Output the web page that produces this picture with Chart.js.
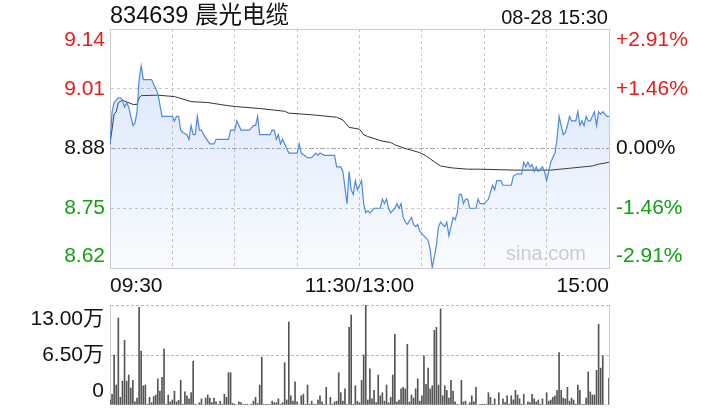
<!DOCTYPE html>
<html>
<head>
<meta charset="utf-8">
<script src="https://cdn.jsdelivr.net/npm/chart.js@4/dist/chart.umd.min.js"></script>
<style>
  html, body { margin: 0; padding: 0; background: #fff; overflow: hidden; }
  #wrap { position: relative; width: 720px; height: 420px; font-family: 'Liberation Sans', 'Noto Sans CJK SC', sans-serif; }
  canvas { position: absolute; left: 0; }
  .txt { position: absolute; line-height: 1; white-space: nowrap; color: #111; }
</style>
</head>
<body>
<div id="wrap">
  <canvas id="price" width="720" height="300" style="top:0"></canvas>
  <canvas id="vol" width="720" height="120" style="top:300px"></canvas>
  <div class="txt" style="left:110px;top:4px;font-size:23.5px">834639 晨光电缆</div>
  <div class="txt" style="right:112px;top:7px;font-size:20px">08-28 15:30</div>
  <div class="txt" style="left:506px;top:243px;font-size:20px;color:#ccc">sina.com</div>
</div>
<script>
"use strict";
// 分时价格 (分钟序号 0..240)
const priceTimes = [0,1,2,4,5,6,7,8,9,10,11,12,13,14,15,16,20,21,23,25,30,31,32,33,34,35,37,38,39,40,41,42,43,44,45,48,50,51,57,58,60,61,63,67,69,70,71,72,77,78,79,80,81,82,83,86,90,91,92,95,97,99,100,101,103,108,109,111,112,114,115,116,117,118,119,120,
  121,122,123,124,125,127,130,131,132,133,134,135,137,138,139,140,141,142,143,145,146,147,148,149,150,151,153,154,155,157,158,159,161,162,163,164,165,166,167,168,169,170,171,172,173,176,177,178,180,182,184,185,186,188,189,193,194,196,198,199,200,201,202,203,204,205,206,208,209,210,211,212,214,215,216,218,219,220,221,222,224,225,226,227,228,229,230,231,233,234,235,236,237,239,240];
const priceValues = [8.89,8.96,8.98,8.99,8.99,8.985,8.97,8.98,8.97,8.95,8.93,8.935,8.96,9.03,9.06,9.03,9.03,9.02,9.00,8.95,8.95,8.94,8.95,8.95,8.92,8.915,8.91,8.90,8.93,8.91,8.91,8.95,8.92,8.92,8.91,8.89,8.89,8.90,8.90,8.92,8.92,8.94,8.92,8.92,8.93,8.93,8.95,8.91,8.91,8.92,8.92,8.90,8.91,8.89,8.90,8.87,8.87,8.89,8.87,8.86,8.86,8.87,8.865,8.87,8.865,8.865,8.84,8.84,8.83,8.76,8.83,8.79,8.78,8.81,8.79,8.80,
  8.81,8.76,8.74,8.745,8.74,8.75,8.75,8.77,8.76,8.77,8.75,8.74,8.75,8.76,8.75,8.76,8.73,8.72,8.715,8.73,8.715,8.71,8.715,8.70,8.695,8.69,8.68,8.66,8.62,8.67,8.71,8.72,8.71,8.72,8.69,8.71,8.73,8.725,8.74,8.78,8.78,8.76,8.77,8.77,8.75,8.75,8.77,8.76,8.76,8.77,8.80,8.79,8.81,8.81,8.80,8.80,8.82,8.825,8.825,8.85,8.84,8.85,8.84,8.845,8.83,8.84,8.83,8.84,8.83,8.81,8.83,8.85,8.87,8.90,8.95,8.91,8.915,8.93,8.95,8.94,8.94,8.96,8.93,8.94,8.93,8.95,8.94,8.94,8.96,8.93,8.96,8.955,8.96,8.95,8.95];

// 均价线
const avgTimes = [0,2,3,4,6,11,13,14,15,23,31,39,47,57,61,72,84,86,98,109,112,115,120,122,124,131,135,137,142,149,152,156,159,164,172,178,194,212,221,232,235,240];
const avgValues = [8.89,8.955,8.96,8.98,8.985,8.976,8.976,8.99,8.995,8.996,8.993,8.982,8.98,8.973,8.971,8.967,8.961,8.957,8.953,8.948,8.942,8.926,8.922,8.91,8.906,8.896,8.893,8.888,8.88,8.871,8.864,8.851,8.842,8.838,8.835,8.835,8.833,8.833,8.837,8.842,8.846,8.85];

// 成交量 (万), 每分钟一根
const volumeValues = [
  0.65,1.4,6.5,2.6,11.3,1.0,3.1,8.4,3.1,3.9, 2.2,3.2,0.4,0.9,12.7,7.0,2.5,2.6,0.1,1.0,
  0.3,1.1,1.3,3.4,1.8,3.6,7.3,0.1,1.3,0.4, 0.65,1.8,0.4,0.6,3.2,0.1,1.7,1.2,0.8,1.6,
  5.7,0.1,0,0.3,0.8,0,0.9,1.3,0.9,0.3, 0.9,0.4,0.1,0.5,0.1,1.4,1.0,4.2,4.2,0.2,
  0.1,0,0.4,0.3,0.1,0.1,0.1,0,0.1,0.5, 1.0,0.2,2.6,6.2,0.1,0.1,0.1,0.1,0.5,0.3,
  0.3,0.8,0.1,0.3,5.5,0.65,10.8,1.2,0.5,3.0, 0.4,0,1.2,1.4,0.1,2.6,0.1,0.5,0.1,0.1,
  0.65,1.2,0.4,0.1,2.3,0,1.0,0.1,0.4,0.5, 4.2,1.6,0.5,2.1,0.1,10.1,11.7,0.1,2.5,0.5,
  0.3,
  3.2,6.5,13.0,0.65,4.7,0.8,1.9,0.3,3.9,1.2, 1.6,0.5,2.6,0.3,1.0,3.9,9.2,0.4,0.65,2.1,
  2.3,2.1,7.9,0.4,1.3,0.9,2.1,3.4,0.5,1.2, 6.4,2.7,4.8,2.1,2.5,9.7,10.1,2.6,12.5,1.2,
  2.5,1.9,0.9,3.2,1.8,0.4,0.1,0,3.2,0.4, 0.5,0,0.3,1.2,0.4,2.3,0,0.1,0.1,0.1,
  0.1,1.6,1.0,0.1,0.8,0,1.6,0,0.8,0.3, 1.2,0.1,1.2,0.65,1.9,1.3,0.8,0.1,1.4,0,
  0.4,0.3,1.4,0.8,0.4,0.65,0.1,0.8,0,1.6, 0.5,0.65,1.0,1.2,1.9,6.8,1.9,0.9,0.8,2.3,
  0.5,0.9,0.65,0.1,2.6,1.9,0.1,0.1,0.9,4.3, 1.7,1.3,1.3,4.5,10.5,4.8,6.4,0,0,3.5
];

// 坐标刻度
const prevClose = 8.88;
const priceTicks = [8.62, 8.75, 8.88, 9.01, 9.14];
const priceTickLabels = ["8.62", "8.75", "8.88", "9.01", "9.14"];
const pctTickLabels = ["-2.91%", "-1.46%", "0.00%", "+1.46%", "+2.91%"];
const gridMinutes = [0, 30, 60, 90, 120, 150, 180, 210, 240];
const timeTickPos = [0, 120, 240];
const timeTickLabels = ["09:30", "11:30/13:00", "15:00"];
const volTicks = [0, 6.5, 13];
const volTickLabels = ["0", "6.50万", "13.00万"];

const FONT = "'Liberation Sans', 'Noto Sans CJK SC', sans-serif";
const RED = "#f01818";
const GREEN = "#10a010";
const FRAME = "#cccccc";
const DOTS = "#c8c8c8";

function edgeLabel(text, i, n) {
  // 首尾标签往图内偏移半行
  if (i === 0) return [text, ""];
  if (i === n - 1) return ["", text];
  return text;
}

function tickColor(v) {
  if (v > prevClose) return RED;
  if (v < prevClose) return GREEN;
  return "#111";
}

function fillGradient(c) {
  const a = c.chart.chartArea;
  if (!a) return "rgba(70,130,230,0.12)";
  const g = c.chart.ctx.createLinearGradient(0, a.top, 0, a.bottom);
  g.addColorStop(0, "rgba(70,130,230,0.22)");
  g.addColorStop(1, "rgba(70,130,230,0.03)");
  return g;
}

new Chart(document.getElementById("price"), {
  type: "line",
  data: {
    datasets: [
      {
        label: "价格",
        data: priceTimes.map((t, i) => ({ x: t, y: priceValues[i] })),
        borderColor: "#4d88ec",
        borderWidth: 1.2,
        pointRadius: 0,
        tension: 0,
        fill: "start",
        backgroundColor: fillGradient
      },
      {
        label: "均价",
        data: avgTimes.map((t, i) => ({ x: t, y: avgValues[i] })),
        borderColor: "#333",
        borderWidth: 1,
        pointRadius: 0,
        tension: 0,
        fill: false
      }
    ]
  },
  options: {
    responsive: false,
    animation: false,
    devicePixelRatio: 1,
    layout: { padding: { top: 29, left: 0, right: 0, bottom: 0 } },
    plugins: { legend: { display: false }, tooltip: { enabled: false } },
    scales: {
      x: {
        type: "linear",
        min: 0,
        max: 240,
        afterBuildTicks: s => { s.ticks = gridMinutes.map(v => ({ value: v })); },
        afterFit: s => { s.height = 32; },
        ticks: {
          autoSkip: false,
          maxRotation: 0,
          align: "inner",
          padding: 6,
          color: "#111",
          font: { family: FONT, size: 21 },
          callback: v => {
            const k = timeTickPos.indexOf(v);
            return k < 0 ? "" : timeTickLabels[k];
          }
        },
        grid: {
          drawTicks: false,
          lineWidth: 1,
          color: c => (c.tick && (c.tick.value === 0 || c.tick.value === 240)) ? FRAME : DOTS
        },
        border: {
          color: FRAME,
          dash: c => (c.tick && (c.tick.value === 0 || c.tick.value === 240)) ? [] : [3, 3]
        }
      },
      y: {
        position: "left",
        min: 8.62,
        max: 9.14,
        afterBuildTicks: s => { s.ticks = priceTicks.map(v => ({ value: v })); },
        afterFit: s => { s.width = 110; s.paddingTop = 0; s.paddingBottom = 0; },
        ticks: {
          autoSkip: false,
          padding: 5,
          font: { family: FONT, size: 21, lineHeight: 1.1 },
          color: c => tickColor(c.tick.value),
          callback: (v, i) => edgeLabel(priceTickLabels[i], i, priceTicks.length)
        },
        grid: {
          drawTicks: false,
          lineWidth: 1,
          color: c => {
            const v = c.tick && c.tick.value;
            if (v === 8.62 || v === 9.14) return FRAME;
            if (v === prevClose) return "#a8a8a8";
            return DOTS;
          }
        },
        border: {
          color: FRAME,
          dash: c => {
            const v = c.tick && c.tick.value;
            if (v === 8.62 || v === 9.14) return [];
            if (v === prevClose) return [5, 2, 2, 2];
            return [3, 3];
          }
        }
      },
      y1: {
        position: "right",
        min: 8.62,
        max: 9.14,
        afterBuildTicks: s => { s.ticks = priceTicks.map(v => ({ value: v })); },
        afterFit: s => { s.width = 111; s.paddingTop = 0; s.paddingBottom = 0; },
        ticks: {
          autoSkip: false,
          padding: 7,
          font: { family: FONT, size: 21, lineHeight: 1.1 },
          color: c => tickColor(c.tick.value),
          callback: (v, i) => edgeLabel(pctTickLabels[i], i, priceTicks.length)
        },
        grid: { drawOnChartArea: false, drawTicks: false },
        border: { color: FRAME }
      }
    }
  }
});

new Chart(document.getElementById("vol"), {
  type: "bar",
  data: {
    datasets: [{
      label: "成交量",
      data: volumeValues.map((v, i) => ({ x: i, y: v })),
      backgroundColor: "#555",
      borderWidth: 0,
      barThickness: 1
    }]
  },
  options: {
    responsive: false,
    animation: false,
    devicePixelRatio: 1,
    layout: { padding: { top: 5, left: 0, right: 111, bottom: 15 } },
    plugins: { legend: { display: false }, tooltip: { enabled: false } },
    scales: {
      x: {
        type: "linear",
        min: 0,
        max: 240,
        offset: false,
        afterBuildTicks: s => { s.ticks = [{ value: 0 }, { value: 240 }]; },
        afterFit: s => { s.height = 0; },
        ticks: { display: false },
        grid: { offset: false, drawTicks: false, lineWidth: 1, color: FRAME },
        border: { display: false }
      },
      y: {
        min: 0,
        max: 13,
        afterBuildTicks: s => { s.ticks = volTicks.map(v => ({ value: v })); },
        afterFit: s => { s.width = 110; s.paddingTop = 0; s.paddingBottom = 0; },
        ticks: {
          autoSkip: false,
          padding: 6,
          color: "#111",
          font: { family: FONT, size: 21, lineHeight: 1.33 },
          callback: (v, i) => edgeLabel(volTickLabels[i], i, volTicks.length)
        },
        grid: {
          drawTicks: false,
          lineWidth: 1,
          color: c => (c.tick && c.tick.value === 0) ? "rgba(0,0,0,0)" : "#bbbbbb"
        },
        border: { display: true, color: "rgba(0,0,0,0)", dash: [3, 2] }
      }
    }
  }
});
</script>
</body>
</html>
